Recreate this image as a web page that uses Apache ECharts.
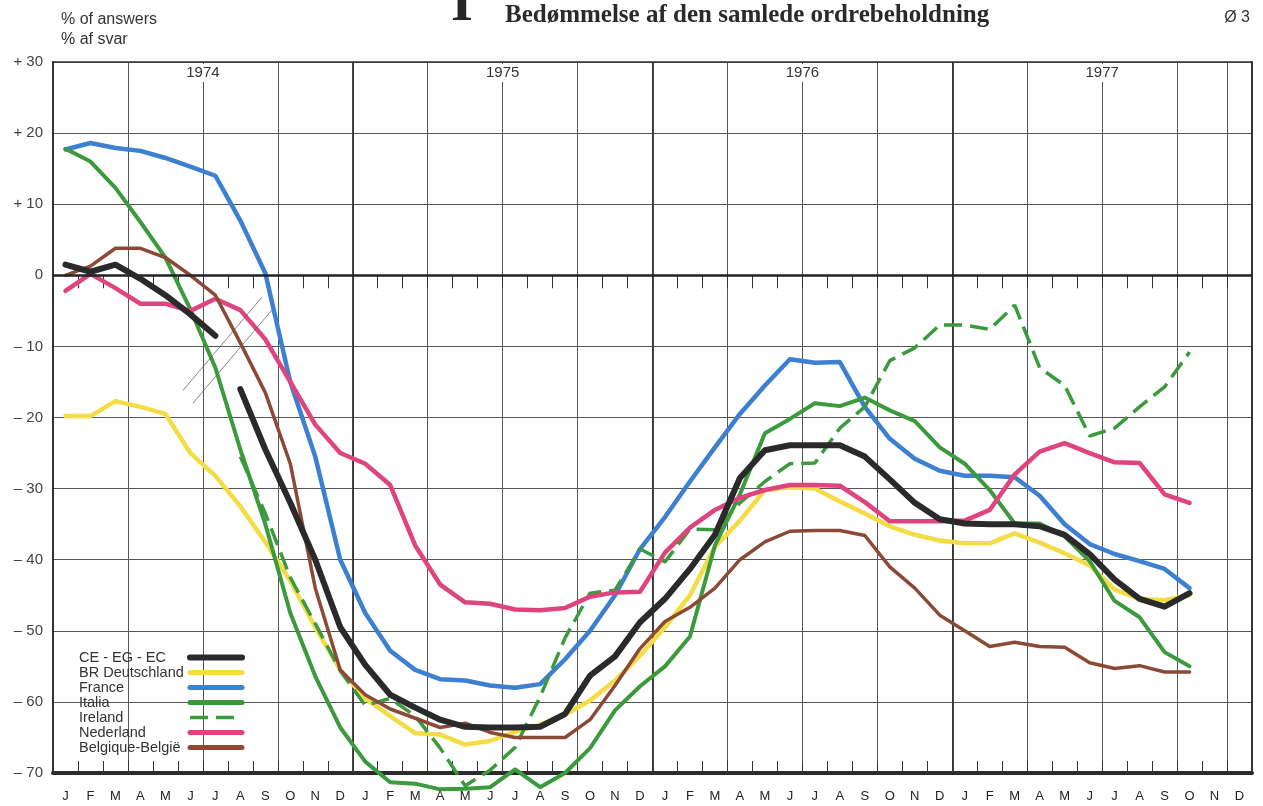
<!DOCTYPE html>
<html>
<head>
<meta charset="utf-8">
<script src="https://cdn.jsdelivr.net/npm/echarts@6/dist/echarts.min.js"></script>
<style>html,body{margin:0;padding:0;background:#fff}#c{width:1263px;height:806px}</style>
</head>
<body>
<div id="c"></div>
<script>
// ---- categories / tick labels ----
const monthLetters = ['J','F','M','A','M','J','J','A','S','O','N','D'];
const months = [].concat(monthLetters, monthLetters, monthLetters, monthLetters); // Jan 1974 .. Dec 1977
const years = ['1974','1975','1976','1977'];

// ---- series values (% of answers), Jan 1974 .. Oct 1977 ----
const ceA = [1.5,0.5,1.5,-0.5,-2.8,-5.5,-8.5];           // CE - EG - EC up to Jul 1974
const ceB = [null,null,null,null,null,null,null,
  -16,-24.5,-32,-40,-49.5,
  -54.8,-59,-60.8,-62.5,-63.5,-63.6,-63.6,-63.5,-61.7,-56.3,-53.6,-48.8,
  -45.5,-41.3,-36.5,-28.5,-24.6,-23.9,-23.9,-23.9,-25.5,-28.7,-32,-34.3,
  -34.9,-35,-35,-35.3,-36.5,-39.2,-42.8,-45.5,-46.6,-44.7];
const deutschland = [-19.8,-19.8,-17.7,-18.5,-19.5,-25,-28.2,-32.5,-37.5,-43,-49.5,-55.5,
  -59.5,-62,-64.4,-64.6,-66,-65.5,-64.2,-63.2,-61.8,-59.8,-57,-53.5,
  -49.5,-45,-38.2,-34.5,-30.2,-29.8,-30,-31.8,-33.5,-35.3,-36.5,-37.3,
  -37.7,-37.7,-36.3,-37.6,-39.1,-40.8,-44.2,-45.5,-45.7,-45];
const france = [17.7,18.6,17.9,17.5,16.5,15.3,14,7.7,0.3,-15,-25.5,-40,
  -47.5,-52.8,-55.5,-56.8,-57,-57.7,-58,-57.5,-54,-50,-45,-38.5,
  -34,-29,-24.2,-19.5,-15.5,-11.8,-12.3,-12.2,-18.5,-23,-25.8,-27.5,
  -28.2,-28.2,-28.4,-31,-35,-37.8,-39.2,-40.2,-41.3,-44];
const italia = [17.8,16,12.3,7.5,2.5,-4.8,-13,-24.5,-35,-47.5,-56.4,-63.6,
  -68.4,-71.3,-71.5,-72.3,-72.2,-72,-69.5,-72,-70,-66.5,-61.2,-57.8,
  -55,-50.8,-38,-30.8,-22.2,-20.2,-18,-18.4,-17.2,-19,-20.5,-24.2,
  -26.5,-30.2,-34.9,-34.9,-36.7,-40.2,-45.8,-48.1,-53,-55];
const ireland = [null,null,null,null,null,null,null,-25.5,-33.5,-42.5,-49,-55.6,
  -60.5,-59.5,-62,-66.5,-71.8,-69.6,-66.4,-59.3,-51,-44.7,-44.3,-38.5,
  -40.3,-35.7,-35.8,-32,-29,-26.5,-26.4,-21.5,-18.5,-12,-10.2,-7,
  -7,-7.6,-4.2,-13,-15.5,-22.6,-21.5,-18.5,-15.7,-10.8];
const nederland = [-2.2,0.2,-1.8,-4,-4,-5,-3.3,-4.9,-9,-15,-21,-25,
  -26.5,-29.5,-38,-43.5,-46,-46.2,-47,-47.1,-46.8,-45.2,-44.6,-44.5,
  -39,-35.5,-33,-31.3,-30.2,-29.5,-29.5,-29.6,-31.9,-34.6,-34.6,-34.6,
  -34.5,-33,-28,-24.8,-23.6,-25,-26.3,-26.4,-30.8,-32];
const belgique = [0,1.3,3.8,3.8,2.5,0,-2.8,-9.5,-16.5,-26.5,-44,-55.5,
  -59,-61,-62.3,-63.6,-63,-64.3,-65,-65,-65,-62.5,-57.7,-52.5,
  -48.7,-46.7,-44,-40,-37.5,-36,-35.9,-35.9,-36.6,-41,-44,-47.8,
  -50,-52.2,-51.6,-52.2,-52.3,-54.5,-55.3,-54.9,-55.8,-55.8];

// series break marks (month index, value)
const breakMark1 = [[4.7,-16.2],[7.86,-3.1]];
const breakMark2 = [[5.1,-18.0],[8.26,-4.9]];

const names = ['CE - EG - EC','BR Deutschland','France','Italia','Ireland','Nederland','Belgique-België'];
const legendWidths = [6,5,5,5,3.5,5,5];

const chart = echarts.init(document.getElementById('c'), null, {renderer:'canvas'});

function yFmt(v){ if (v > 0) return '+ ' + v; if (v < 0) return '\u2013 ' + (-v); return '0'; }

function line(name, data, color, width, extra){
  return Object.assign({
    type:'line', name:name, data:data, symbol:'none', showSymbol:false,
    xAxisIndex:0, yAxisIndex:0, color:color,
    lineStyle:{color:color, width:width, cap:'round', join:'round'},
    connectNulls:false, animation:false, silent:true
  }, extra || {});
}

const option = {
  animation:false,
  backgroundColor:'#fff',
  textStyle:{fontFamily:'Liberation Sans, Arial, sans-serif'},
  title:[
    {text:'I', left:446, top:-27, textStyle:{fontFamily:'Liberation Serif, serif', fontWeight:'bold', fontSize:56, color:'#262626'}},
    {text:'Bedømmelse af den samlede ordrebeholdning', left:500, top:-2, textStyle:{fontFamily:'Liberation Serif, serif', fontWeight:'bold', fontSize:25, color:'#2a2a2a'}},
    {text:'Ø 3', right:8, top:5, textStyle:{fontFamily:'Liberation Sans, sans-serif', fontWeight:'normal', fontSize:16, color:'#333'}},
    {text:'% of answers\n% af svar', left:56, top:5, textStyle:{fontFamily:'Liberation Sans, sans-serif', fontWeight:'normal', fontSize:16, lineHeight:20, color:'#333'}}
  ],
  legend:{
    data:names.map(function(n,i){ return {name:n, lineStyle:{width:legendWidths[i]}}; }),
    orient:'vertical', left:79, top:650, align:'right',
    itemWidth:52, itemHeight:15, itemGap:0, padding:0, selectedMode:false,
    itemStyle:{opacity:0},
    formatter:function(n){ return '{a|' + n + '}'; },
    textStyle:{color:'#333', fontSize:14, rich:{a:{width:106, align:'left', fontSize:14.5, lineHeight:15, color:'#333', fontFamily:'Liberation Sans, sans-serif'}}}
  },
  grid:{left:53, right:11, top:62, bottom:33, containLabel:false},
  xAxis:[
    {type:'category', data:months, boundaryGap:true, position:'bottom',
     axisLine:{show:true, onZero:false, lineStyle:{color:'#2b2b2b', width:4}},
     axisTick:{show:true, inside:true, length:12, interval:0, lineStyle:{color:'#333', width:1}},
     axisLabel:{interval:0, color:'#222', fontSize:13, margin:17, fontFamily:'Liberation Sans, sans-serif'},
     splitLine:{show:true, interval:2, lineStyle:{color:'#555', width:1}}},
    {type:'category', data:months, boundaryGap:true, position:'top', offset:0,
     axisLine:{show:false},
     axisTick:{show:true, inside:true, length:13, interval:0, lineStyle:{color:'#333', width:1}},
     axisLabel:{show:false}, splitLine:{show:false}},
    {type:'category', data:years, boundaryGap:true, position:'top', offset:0,
     axisLine:{show:true, onZero:false, lineStyle:{color:'#333', width:1.5}},
     axisTick:{show:false},
     axisLabel:{inside:true, interval:0, color:'#333', fontSize:15, margin:2, backgroundColor:'#fff', padding:[1,3,2,3], fontFamily:'Liberation Sans, sans-serif'},
     splitLine:{show:true, interval:0, lineStyle:{color:'#333', width:1.8}}},
    {type:'value', min:-0.5, max:47.5, show:false}
  ],
  yAxis:[
    {type:'value', min:-70, max:30, interval:10, position:'left',
     axisLine:{show:true, onZero:false, lineStyle:{color:'#333', width:2}},
     axisTick:{show:false},
     axisLabel:{formatter:yFmt, color:'#444', fontSize:15, margin:10, fontFamily:'Liberation Sans, sans-serif'},
     splitLine:{show:true, lineStyle:{color:'#555', width:1}}},
    {type:'value', min:-70, max:30, interval:10, position:'right',
     axisLine:{show:true, onZero:false, lineStyle:{color:'#333', width:2}},
     axisTick:{show:false}, axisLabel:{show:false}, splitLine:{show:false}}
  ],
  series:[
    line('BR Deutschland', deutschland, '#f3dc46', 4.5, {z:3}),
    line('France', france, '#3d7fd0', 4.5, {z:3}),
    line('Italia', italia, '#3a9a3c', 4, {z:3, clip:false}),
    line('Ireland', ireland, '#3a9a3c', 3.5, {z:3, clip:false, lineStyle:{color:'#3a9a3c', width:3.5, type:[18,8]}}),
    line('Nederland', nederland, '#e0447e', 4.5, {z:3}),
    line('Belgique-België', belgique, '#8c4a36', 3.5, {z:3}),
    line('CE - EG - EC', ceA, '#2a2a2a', 6, {z:5,
      markLine:{silent:true, symbol:'none', animation:false, label:{show:false},
        lineStyle:{color:'#222', width:2.5, type:'solid'}, data:[{yAxis:0}]}}),
    line('CE - EG - EC', ceB, '#2a2a2a', 6, {z:5}),
    {type:'line', data:breakMark1, xAxisIndex:3, yAxisIndex:0, symbol:'none', silent:true, animation:false,
     lineStyle:{color:'#666', width:0.8}, z:6},
    {type:'line', data:breakMark2, xAxisIndex:3, yAxisIndex:0, symbol:'none', silent:true, animation:false,
     lineStyle:{color:'#666', width:0.8}, z:6}
  ]
};
chart.setOption(option);
</script>
</body>
</html>
